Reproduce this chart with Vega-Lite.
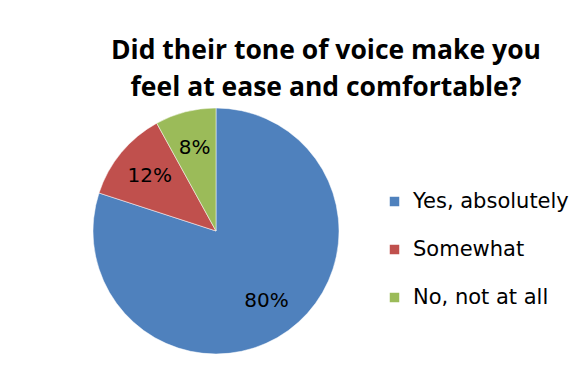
{
  "$schema": "https://vega.github.io/schema/vega-lite/v6.json",
  "width": 250,
  "height": 250,
  "autosize": "none",
  "padding": {"left": 91, "top": 106, "right": 243, "bottom": 22},
  "background": "white",
  "title": {
    "text": ["Did their tone of voice make you", "feel at ease and comfortable?"],
    "font": "Open Sans",
    "fontSize": 26.5,
    "fontWeight": "bold",
    "color": "#000000",
    "anchor": "middle",
    "dx": 110,
    "lineHeight": 37,
    "offset": 5
  },
  "data": {
    "values": [
      {"answer": "Yes, absolutely", "share": 0.80, "order": 1},
      {"answer": "Somewhat", "share": 0.12, "order": 2},
      {"answer": "No, not at all", "share": 0.08, "order": 3}
    ]
  },
  "encoding": {
    "theta": {"field": "share", "type": "quantitative", "stack": true},
    "order": {"field": "order", "type": "quantitative"}
  },
  "layer": [
    {
      "mark": {"type": "arc", "outerRadius": 123, "stroke": "white", "strokeWidth": 0.5},
      "encoding": {
        "color": {
          "field": "answer",
          "type": "nominal",
          "sort": ["Yes, absolutely", "Somewhat", "No, not at all"],
          "scale": {
            "domain": ["Yes, absolutely", "Somewhat", "No, not at all"],
            "range": ["#4F81BD", "#C0504D", "#9BBB59"]
          },
          "legend": {
            "title": null,
            "orient": "none",
            "legendX": 293,
            "legendY": 85,
            "symbolType": "square",
            "symbolSize": 90,
            "symbolStrokeWidth": 0,
            "labelFont": "DejaVu Sans",
            "labelFontSize": 21,
            "labelColor": "#000000",
            "labelLimit": 300,
            "labelOffset": 8,
            "rowPadding": 26
          }
        }
      }
    },
    {
      "mark": {"type": "text", "radius": 86, "font": "DejaVu Sans", "fontSize": 20, "color": "#000000"},
      "encoding": {
        "text": {"field": "share", "type": "quantitative", "format": ".0%"}
      }
    }
  ]
}
